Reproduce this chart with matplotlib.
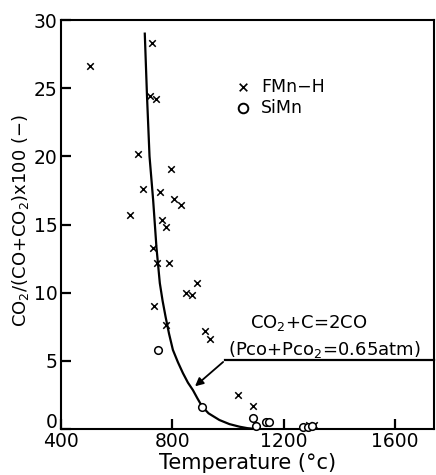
import matplotlib.pyplot as plt
import matplotlib.transforms as mtransforms

# FMn-H (crosses)
fmn_t = [505, 727, 719, 743, 677, 796, 695, 757, 805, 832, 647, 763, 776, 731,
         746, 788, 888, 848, 870, 734, 779, 918, 936, 1037, 1089, 1290, 1310]
fmn_r = [26.6, 28.3, 24.4, 24.2, 20.2, 19.1, 17.6, 17.4, 16.9, 16.4, 15.7, 15.3,
         14.8, 13.3, 12.2, 12.2, 10.7, 10.0, 9.8, 9.0, 7.6, 7.2, 6.6, 2.5, 1.7, 0.3, 0.3]

# SiMn (circles)
simn_t = [750, 907, 1089, 1100, 1137, 1148, 1268, 1286, 1303]
simn_r = [5.8, 1.6, 0.8, 0.25, 0.55, 0.55, 0.15, 0.15, 0.2]

# equilibrium curve
curve_t = [701, 709, 718, 731, 743, 755, 765, 776, 788, 802, 820, 838, 856,
           874, 890, 907, 930, 969, 1005, 1041, 1070, 1100]
curve_r = [29.0, 24.4, 20.0, 16.8, 13.3, 10.7, 9.4, 8.2, 7.0, 5.8, 4.9, 4.1, 3.4,
           2.85, 2.25, 1.65, 1.15, 0.66, 0.36, 0.17, 0.06, 0.0]

plt.rcParams['font.family'] = ['DejaVu Sans']
plt.rcParams['mathtext.fontset'] = 'dejavusans'

fig = plt.figure(figsize=(4.36, 4.75), dpi=100)
ax = fig.add_axes([61 / 436, 1 - 429 / 475, (434 - 61) / 436, (429 - 20) / 475])

ax.plot(curve_t, curve_r, color='black', lw=1.6, zorder=2)
ax.scatter(fmn_t, fmn_r, marker='x', s=22, color='black', linewidths=1.1, zorder=3)
ax.scatter(simn_t, simn_r, marker='o', s=30, facecolors='white', edgecolors='black',
           linewidths=1.1, zorder=3, clip_on=False)

ax.set_xlim(400, 1740)
ax.set_ylim(0, 30)
ax.set_xticks([400, 800, 1200, 1600])
ax.set_yticks([0, 5, 10, 15, 20, 25, 30])
ax.tick_params(direction='in', length=7, width=1.6, labelsize=13.5, pad=2.5)
for sp in ax.spines.values():
    sp.set_linewidth(1.5)

# nudge the "0" label up like in the original
lbl0 = ax.get_yticklabels()[0]
lbl0.set_transform(lbl0.get_transform() + mtransforms.ScaledTranslation(0, 6 / 72, fig.dpi_scale_trans))

ax.set_xlabel('Temperature (°c)', fontsize=15, labelpad=1)
fig.text(21 / 436, 1 - 220 / 475, 'CO$_2$/(CO+CO$_2$)x100 (−)', rotation=90,
         ha='center', va='center', fontsize=13)

# legend
ax.scatter([1055], [25.1], marker='x', s=30, color='black', linewidths=1.2)
ax.text(1118, 25.1, 'FMn−H', fontsize=12.5, va='center')
ax.scatter([1055], [23.55], marker='o', s=48, facecolors='white', edgecolors='black',
           linewidths=1.4)
ax.text(1118, 23.55, 'SiMn', fontsize=12.5, va='center')

# annotation with leader line
ax.text(1290, 7.75, 'CO$_2$+C=2CO', fontsize=13, ha='center', va='center')
ax.text(1345, 5.85, '(Pco+Pco$_2$=0.65atm)', fontsize=13, ha='center', va='center')
ax.annotate('', xy=(874, 3.0), xytext=(990, 5.05),
            arrowprops=dict(arrowstyle='-|>', color='black', lw=1.3, mutation_scale=12))
ax.plot([990, 1740], [5.05, 5.05], color='black', lw=1.6, clip_on=False)

fig.savefig('out.png', dpi=100)
